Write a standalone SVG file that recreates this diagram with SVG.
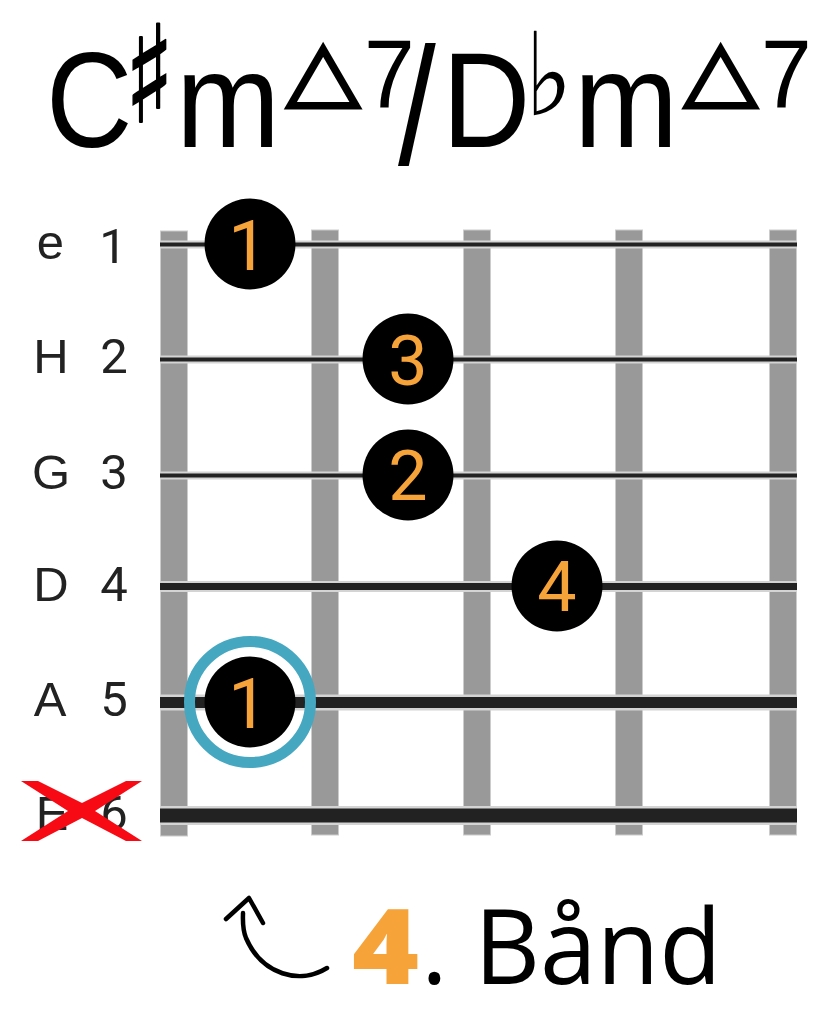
<svg xmlns="http://www.w3.org/2000/svg" width="830" height="1024" viewBox="0 0 830 1024">
<style>
.t{font-family:"Liberation Sans",Arial,sans-serif;fill:#000}
.g{font-family:"DejaVu Sans",sans-serif;fill:#000}
.tri{stroke:#000;stroke-width:3}
.sh{stroke:#000;stroke-width:1.500}
.l{font-family:"Liberation Sans",Arial,sans-serif;font-size:49px;fill:#222;text-anchor:middle}
.d{font-family:Roboto,"Liberation Sans",sans-serif;font-size:49px;fill:#222;text-anchor:middle}
.f{fill:#999;stroke:#ccc;stroke-width:1}
.h{stroke:#d4d4d4;fill:none}
.s{stroke:#222;fill:none}
.dot{fill:#000}
.n{font-family:Roboto,"Liberation Sans",sans-serif;font-size:70px;font-weight:400;fill:#f6a33a;text-anchor:middle}
</style>
<rect width="830" height="1024" fill="#fff"/>
<g id="title">
<text class="t" font-size="136" transform="translate(46 147) scale(.88 1)" x="0" y="0">C</text>
<text class="t" font-size="136" transform="translate(176 147) scale(.92 1)" x="0" y="0">m</text>
<text class="t" font-size="136" transform="translate(442 147) scale(.9 1)" x="0" y="0">D</text>
<text class="t" font-size="136" transform="translate(574 147) scale(.92 1)" x="0" y="0">m</text>
<text class="t" font-size="96" transform="translate(364 107) scale(.95 1)" x="0" y="0">7</text>
<text class="t" font-size="96" transform="translate(761 107) scale(.95 1)" x="0" y="0">7</text>
<text class="t" font-size="136" transform="translate(398 164) scale(1 1.23)" x="0" y="0">/</text>
<text class="g sh" font-size="108" transform="translate(124.500 122) scale(.95 1.25)" x="0" y="0">♯</text>
<text class="g" font-size="96" transform="translate(525 115) scale(1.05 1.2)" x="0" y="0">♭</text>
<text class="g tri" font-size="92" transform="translate(286 97.500) scale(1.05 .9)" x="0" y="0">△</text>
<text class="g tri" font-size="92" transform="translate(683.500 97.500) scale(1.05 .9)" x="0" y="0">△</text>
</g>
<g id="frets">
<rect class="f" x="160.500" y="231" width="27" height="605"/>
<rect class="f" x="311.500" y="230" width="27" height="605"/>
<rect class="f" x="463.500" y="230" width="27" height="605"/>
<rect class="f" x="615.500" y="230" width="27" height="605"/>
<rect class="f" x="769.500" y="230" width="27" height="605"/>
</g>
<circle cx="250" cy="702" r="57" fill="#fff"/>
<g id="strings">
<path class="h" stroke-width="8" d="M160 244.500H797M160 359.500H797M160 475.500H797"/>
<path class="h" stroke-width="11" d="M160 586.500H797"/>
<path class="h" stroke-width="16" d="M160 702.500H797"/>
<path class="h" stroke-width="19" d="M160 815.500H797"/>
<path class="s" stroke-width="4" d="M160 244.500H797M160 359.500H797M160 475.500H797"/>
<path class="s" stroke-width="7" d="M160 586.500H797"/>
<path class="s" stroke-width="11" d="M160 702.500H797"/>
<path class="s" stroke-width="14" d="M160 815.500H797"/>
</g>
<g id="labels">
<text class="l" x="50.500" y="259">e</text><text class="d" x="113" y="263">1</text>
<text class="l" x="51" y="373">H</text><text class="d" x="114" y="373">2</text>
<text class="l" x="51" y="489">G</text><text class="d" x="114" y="489">3</text>
<text class="l" x="51" y="601">D</text><text class="d" x="114" y="601">4</text>
<text class="l" x="50" y="716">A</text><text class="d" x="114" y="716">5</text>
<text class="l" x="52" y="830">E</text><text class="d" x="114" y="830">6</text>
</g>
<path id="mute-x" fill="#f80a14" d="M21 781H38L82 803L126 781H142L95 811L142 841H126L82 818L38 841H21L68 811Z"/>
<g id="root-ring"><circle cx="250" cy="702" r="60.500" fill="none" stroke="#46a7c1" stroke-width="11"/></g>
<g id="dot-e1"><circle class="dot" cx="250" cy="244" r="45.500"/><text class="n" x="248" y="270">1</text></g>
<g id="dot-h3"><circle class="dot" cx="408" cy="359" r="45.500"/><text class="n" x="408" y="385">3</text></g>
<g id="dot-g2"><circle class="dot" cx="408" cy="475" r="45.500"/><text class="n" x="408" y="500">2</text></g>
<g id="dot-d4"><circle class="dot" cx="557" cy="586" r="45.500"/><text class="n" x="557" y="611">4</text></g>
<g id="dot-a1"><circle class="dot" cx="250" cy="702" r="45.500"/><text class="n" x="248" y="728">1</text></g>
<g id="fret-label">
<path fill="none" stroke="#000" stroke-width="4.500" stroke-linecap="round" stroke-linejoin="round" d="M327 968C300 985 262 975 246 938C242 928 243 918 243 913M226 919L249 898L263 923"/>
<text transform="translate(352 984) scale(1.1 1)" x="0" y="0" font-family="'Open Sans','Noto Sans',sans-serif" font-size="104" font-weight="800" fill="#f6a33a">4</text>
<text transform="translate(421 984) scale(.98 1)" x="0" y="0" font-family="'Open Sans','Noto Sans',sans-serif" font-size="104" fill="#000">. Bånd</text>
</g>
</svg>
